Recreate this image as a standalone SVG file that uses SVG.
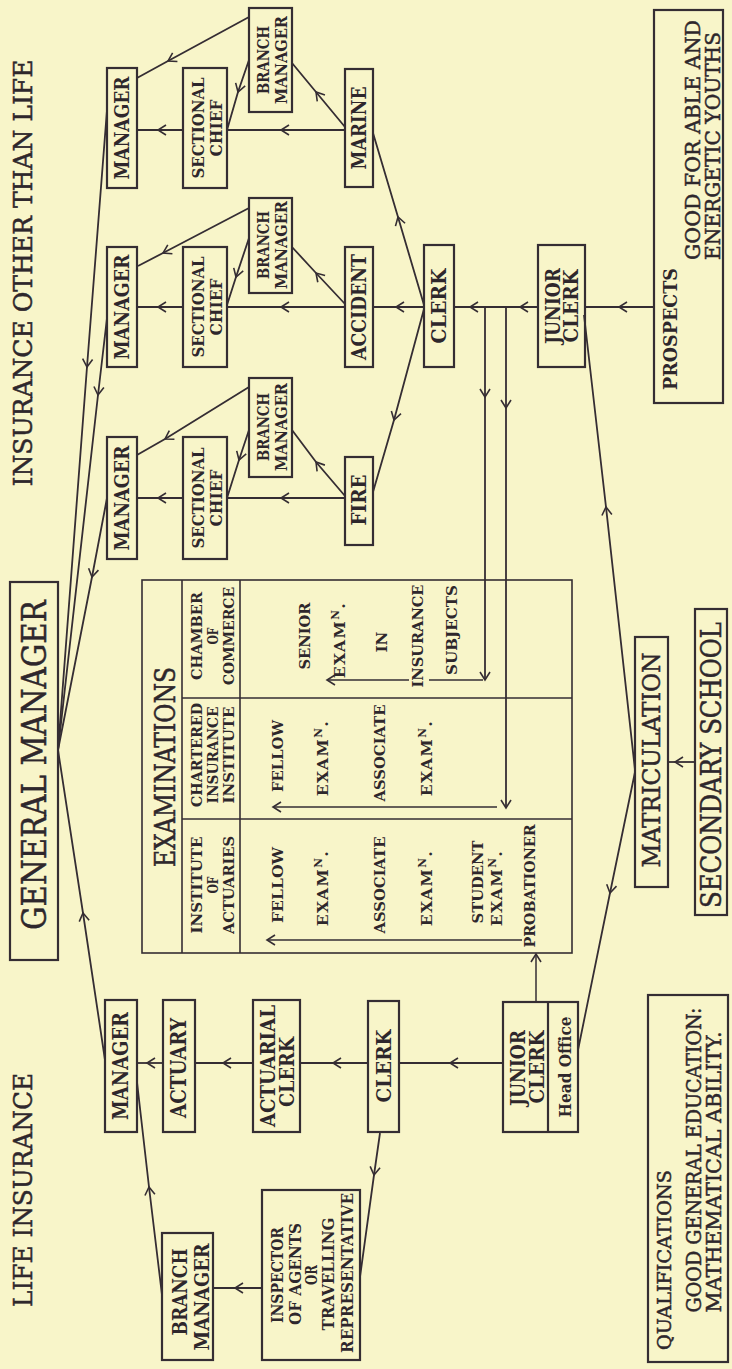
<svg xmlns="http://www.w3.org/2000/svg" width="732" height="1369" viewBox="0 0 732 1369">
<style>
.bg{fill:#f8f5c9}
.b{fill:none;stroke:#352d33;stroke-width:2.2}
.tl{fill:none;stroke:#352d33;stroke-width:1.6}
.t{font-family:"DejaVu Serif","Liberation Serif",serif;fill:#2e272c;text-anchor:middle;font-weight:bold}
.h{font-family:"DejaVu Serif","Liberation Serif",serif;fill:#2e272c;text-anchor:middle;stroke:#2e272c;stroke-width:0.5}
.c{fill:none;stroke:#352d33;stroke-width:1.8;marker-mid:url(#ch)}
.e{fill:none;stroke:#352d33;stroke-width:1.5;marker-end:url(#ch)}
.p{fill:none;stroke:#352d33;stroke-width:1.5}
</style>
<defs>
<marker id="ch" markerUnits="userSpaceOnUse" markerWidth="20" markerHeight="20" viewBox="-10 -10 20 20" refX="0" refY="0" orient="auto">
<path d="M-8,-5 L0,0 L-8,5" fill="none" stroke="#352d33" stroke-width="1.6"/>
</marker>
</defs>
<rect class="bg" x="0" y="0" width="732" height="1369"/>

<g id="titles">
<text class="h" font-size="26" textLength="427" lengthAdjust="spacingAndGlyphs" transform="translate(31.6,273) rotate(-90)">INSURANCE OTHER THAN LIFE</text>
<text class="h" font-size="26" textLength="234" lengthAdjust="spacingAndGlyphs" transform="translate(31.6,1190) rotate(-90)">LIFE INSURANCE</text>
</g>

<g id="connectors">
<polyline class="c" points="654,307 619,307 585,307"/>
<polyline class="c" points="538,307 520,307 470,307 454,307"/>
<polyline class="c" points="424,307 396,307 373,307"/>
<polyline class="c" points="424,305 398,217 373,133"/>
<polyline class="c" points="424,309 394,420 373,492"/>
<polyline class="c" points="345,130 281,130 227,130"/>
<polyline class="c" points="345,127 316,92 292,63"/>
<polyline class="c" points="249,60 238,92 227,130"/>
<polyline class="c" points="249,17 168,61 137,78"/>
<polyline class="c" points="183,130 158,130 137,130"/>
<polyline class="c" points="345,307 281,307 227,307"/>
<polyline class="c" points="345,304 316,273 292,247"/>
<polyline class="c" points="249,238 236,277 227,305"/>
<polyline class="c" points="249,208 163,253 138,266"/>
<polyline class="c" points="183,307 158,307 137,307"/>
<polyline class="c" points="345,498 281,498 227,498"/>
<polyline class="c" points="345,496 316,462 292,430"/>
<polyline class="c" points="249,430 239,460 227,498"/>
<polyline class="c" points="249,387 165,439 137,455"/>
<polyline class="c" points="183,498 158,498 137,498"/>
<polyline class="c" points="107,110 87,367 58,750"/>
<polyline class="c" points="107,318 98,395 58,750"/>
<polyline class="c" points="107,498 92,577 58,750"/>
<polyline class="c" points="105,1060 83,913 58,750"/>
<polyline class="c" points="162,1295 149,1187 137,1082"/>
<polyline class="c" points="163,1063 147,1063 137,1063"/>
<polyline class="c" points="253,1063 223,1063 195,1063"/>
<polyline class="c" points="368,1063 333,1063 300,1063"/>
<polyline class="c" points="503,1063 450,1063 399,1063"/>
<polyline class="c" points="380,1133 374,1175 360,1277"/>
<polyline class="c" points="262,1288 235,1288 213,1288"/>
<polyline class="e" points="536,1002 536,954"/>
<polyline class="c" points="635,770 606,507 584,315"/>
<polyline class="c" points="635,772 610,893 578,1050"/>
<polyline class="c" points="695,762 675,762 668,762"/>
<polyline class="c" points="485,307 485,397 485,680" style="marker-end:url(#ch)"/>
<polyline class="p" points="483,680 429,680"/>
<polyline class="e" points="409,680 327,680"/>
<polyline class="c" points="506,307 506,408 506,808" style="marker-end:url(#ch)"/>
<polyline class="e" points="497,807 273,807"/>
<polyline class="e" points="522,940 267,940"/>
</g>

<g id="gm">
<rect class="b" x="10" y="582" width="48" height="378"/>
<text class="h" font-size="34" textLength="330" lengthAdjust="spacingAndGlyphs" transform="translate(46,765) rotate(-90)">GENERAL MANAGER</text>
</g>

<g id="mgr-marine">
<rect class="b" x="107" y="68" width="30" height="120"/>
<text class="t" font-size="21" textLength="103" lengthAdjust="spacingAndGlyphs" transform="translate(129,128) rotate(-90)">MANAGER</text>
</g>
<g id="sc-marine">
<rect class="b" x="183" y="68" width="44" height="120"/>
<text class="t" font-size="17.5" textLength="101" lengthAdjust="spacingAndGlyphs" transform="translate(203.8,128) rotate(-90)">SECTIONAL</text>
<text class="t" font-size="17.5" textLength="57" lengthAdjust="spacingAndGlyphs" transform="translate(221.8,128) rotate(-90)">CHIEF</text>
</g>
<g id="bm-marine">
<rect class="b" x="249" y="8" width="43" height="104"/>
<text class="t" font-size="17" textLength="68" lengthAdjust="spacingAndGlyphs" transform="translate(268.6,60) rotate(-90)">BRANCH</text>
<text class="t" font-size="17" textLength="88" lengthAdjust="spacingAndGlyphs" transform="translate(286.6,60) rotate(-90)">MANAGER</text>
</g>
<g id="marine">
<rect class="b" x="345" y="69" width="28" height="118"/>
<text class="t" font-size="21" textLength="83" lengthAdjust="spacingAndGlyphs" transform="translate(366,128) rotate(-90)">MARINE</text>
</g>

<g id="mgr-accident">
<rect class="b" x="107" y="247" width="30" height="120"/>
<text class="t" font-size="21" textLength="105" lengthAdjust="spacingAndGlyphs" transform="translate(129,307) rotate(-90)">MANAGER</text>
</g>
<g id="sc-accident">
<rect class="b" x="183" y="247" width="44" height="120"/>
<text class="t" font-size="17.5" textLength="101" lengthAdjust="spacingAndGlyphs" transform="translate(203.8,307) rotate(-90)">SECTIONAL</text>
<text class="t" font-size="17.5" textLength="57" lengthAdjust="spacingAndGlyphs" transform="translate(221.8,307) rotate(-90)">CHIEF</text>
</g>
<g id="bm-accident">
<rect class="b" x="249" y="198" width="43" height="95"/>
<text class="t" font-size="17" textLength="68" lengthAdjust="spacingAndGlyphs" transform="translate(268.6,245) rotate(-90)">BRANCH</text>
<text class="t" font-size="17" textLength="88" lengthAdjust="spacingAndGlyphs" transform="translate(286.6,245) rotate(-90)">MANAGER</text>
</g>
<g id="accident">
<rect class="b" x="345" y="247" width="28" height="120"/>
<text class="t" font-size="21" textLength="106" lengthAdjust="spacingAndGlyphs" transform="translate(366,307) rotate(-90)">ACCIDENT</text>
</g>

<g id="mgr-fire">
<rect class="b" x="107" y="437" width="30" height="122"/>
<text class="t" font-size="21" textLength="105" lengthAdjust="spacingAndGlyphs" transform="translate(129,498) rotate(-90)">MANAGER</text>
</g>
<g id="sc-fire">
<rect class="b" x="183" y="437" width="44" height="122"/>
<text class="t" font-size="17.5" textLength="101" lengthAdjust="spacingAndGlyphs" transform="translate(203.8,498) rotate(-90)">SECTIONAL</text>
<text class="t" font-size="17.5" textLength="57" lengthAdjust="spacingAndGlyphs" transform="translate(221.8,498) rotate(-90)">CHIEF</text>
</g>
<g id="bm-fire">
<rect class="b" x="249" y="378" width="43" height="99"/>
<text class="t" font-size="17" textLength="68" lengthAdjust="spacingAndGlyphs" transform="translate(268.6,427) rotate(-90)">BRANCH</text>
<text class="t" font-size="17" textLength="88" lengthAdjust="spacingAndGlyphs" transform="translate(286.6,427) rotate(-90)">MANAGER</text>
</g>
<g id="fire">
<rect class="b" x="345" y="457" width="28" height="88"/>
<text class="t" font-size="21" textLength="51" lengthAdjust="spacingAndGlyphs" transform="translate(366,500) rotate(-90)">FIRE</text>
</g>

<g id="clerk-other">
<rect class="b" x="424" y="245" width="30" height="122"/>
<text class="t" font-size="21" textLength="75" lengthAdjust="spacingAndGlyphs" transform="translate(446,306) rotate(-90)">CLERK</text>
</g>
<g id="junior-other">
<rect class="b" x="538" y="245" width="47" height="122"/>
<text class="t" font-size="20" textLength="76" lengthAdjust="spacingAndGlyphs" transform="translate(559.6,306) rotate(-90)">JUNIOR</text>
<text class="t" font-size="20" textLength="73" lengthAdjust="spacingAndGlyphs" transform="translate(578,306) rotate(-90)">CLERK</text>
</g>
<g id="prospects">
<rect class="b" x="654" y="10" width="69" height="393"/>
<text class="t" font-size="19" textLength="122" lengthAdjust="spacingAndGlyphs" transform="translate(677.3,329) rotate(-90)">PROSPECTS</text>
<text class="h" font-size="21" textLength="240" lengthAdjust="spacingAndGlyphs" transform="translate(700.4,140) rotate(-90)">GOOD FOR ABLE AND</text>
<text class="h" font-size="21" textLength="228" lengthAdjust="spacingAndGlyphs" transform="translate(719.5,146) rotate(-90)">ENERGETIC YOUTHS</text>
</g>

<g id="examinations">
<rect class="tl" x="142" y="580" width="430" height="373"/>
<line class="tl" x1="182" y1="580" x2="182" y2="953"/>
<line class="tl" x1="240" y1="580" x2="240" y2="953"/>
<line class="tl" x1="182" y1="698" x2="572" y2="698"/>
<line class="tl" x1="182" y1="819" x2="572" y2="819"/>
<text class="h" font-size="27" textLength="200" lengthAdjust="spacingAndGlyphs" transform="translate(175,767) rotate(-90)">EXAMINATIONS</text>
<text class="t" font-size="15" textLength="88" lengthAdjust="spacingAndGlyphs" transform="translate(201.5,636) rotate(-90)">CHAMBER</text>
<text class="t" font-size="15" textLength="17" lengthAdjust="spacingAndGlyphs" transform="translate(217.5,636) rotate(-90)">OF</text>
<text class="t" font-size="15" textLength="98" lengthAdjust="spacingAndGlyphs" transform="translate(233.5,636) rotate(-90)">COMMERCE</text>
<text class="t" font-size="15" textLength="104" lengthAdjust="spacingAndGlyphs" transform="translate(201.5,755) rotate(-90)">CHARTERED</text>
<text class="t" font-size="15" textLength="97" lengthAdjust="spacingAndGlyphs" transform="translate(217.5,755) rotate(-90)">INSURANCE</text>
<text class="t" font-size="15" textLength="97" lengthAdjust="spacingAndGlyphs" transform="translate(233.5,755) rotate(-90)">INSTITUTE</text>
<text class="t" font-size="15" textLength="97" lengthAdjust="spacingAndGlyphs" transform="translate(201.5,885) rotate(-90)">INSTITUTE</text>
<text class="t" font-size="15" textLength="17" lengthAdjust="spacingAndGlyphs" transform="translate(217.5,885) rotate(-90)">OF</text>
<text class="t" font-size="15" textLength="98" lengthAdjust="spacingAndGlyphs" transform="translate(233.5,885) rotate(-90)">ACTUARIES</text>
<text class="t" font-size="15.5" textLength="67" lengthAdjust="spacingAndGlyphs" transform="translate(310.1,636) rotate(-90)">SENIOR</text>
<text class="t" font-size="15.5" letter-spacing="1.5" transform="translate(345,640) rotate(-90)">EXAM<tspan font-size="10.5" dy="-6">N</tspan><tspan dy="6">.</tspan></text>
<text class="t" font-size="15.5" textLength="21" lengthAdjust="spacingAndGlyphs" transform="translate(387.1,642) rotate(-90)">IN</text>
<text class="t" font-size="15.5" textLength="103" lengthAdjust="spacingAndGlyphs" transform="translate(423.1,636) rotate(-90)">INSURANCE</text>
<text class="t" font-size="15.5" textLength="90" lengthAdjust="spacingAndGlyphs" transform="translate(457.1,630) rotate(-90)">SUBJECTS</text>
<text class="t" font-size="15.5" textLength="72" lengthAdjust="spacingAndGlyphs" transform="translate(283.1,756) rotate(-90)">FELLOW</text>
<text class="t" font-size="15.5" letter-spacing="1.5" transform="translate(328.1,758) rotate(-90)">EXAM<tspan font-size="10.5" dy="-6">N</tspan><tspan dy="6">.</tspan></text>
<text class="t" font-size="15.5" textLength="97" lengthAdjust="spacingAndGlyphs" transform="translate(385.1,753) rotate(-90)">ASSOCIATE</text>
<text class="t" font-size="15.5" letter-spacing="1.5" transform="translate(432.1,758) rotate(-90)">EXAM<tspan font-size="10.5" dy="-6">N</tspan><tspan dy="6">.</tspan></text>
<text class="t" font-size="15.5" textLength="76" lengthAdjust="spacingAndGlyphs" transform="translate(283.1,885) rotate(-90)">FELLOW</text>
<text class="t" font-size="15.5" letter-spacing="1.5" transform="translate(328.1,888) rotate(-90)">EXAM<tspan font-size="10.5" dy="-6">N</tspan><tspan dy="6">.</tspan></text>
<text class="t" font-size="15.5" textLength="97" lengthAdjust="spacingAndGlyphs" transform="translate(385.1,885) rotate(-90)">ASSOCIATE</text>
<text class="t" font-size="15.5" letter-spacing="1.5" transform="translate(432.1,888) rotate(-90)">EXAM<tspan font-size="10.5" dy="-6">N</tspan><tspan dy="6">.</tspan></text>
<text class="t" font-size="15.5" textLength="83" lengthAdjust="spacingAndGlyphs" transform="translate(483.1,882) rotate(-90)">STUDENT</text>
<text class="t" font-size="15.5" letter-spacing="1.5" transform="translate(502.1,888) rotate(-90)">EXAM<tspan font-size="10.5" dy="-6">N</tspan><tspan dy="6">.</tspan></text>
<text class="t" font-size="15.5" textLength="123" lengthAdjust="spacingAndGlyphs" transform="translate(535.1,886) rotate(-90)">PROBATIONER</text>
</g>

<g id="matriculation">
<rect class="b" x="635" y="637" width="33" height="250"/>
<text class="h" font-size="25" textLength="215" lengthAdjust="spacingAndGlyphs" transform="translate(660,760) rotate(-90)">MATRICULATION</text>
</g>
<g id="secondary-school">
<rect class="b" x="695" y="609" width="32" height="306"/>
<text class="h" font-size="27" textLength="286" lengthAdjust="spacingAndGlyphs" transform="translate(720.5,765) rotate(-90)">SECONDARY SCHOOL</text>
</g>

<g id="mgr-life">
<rect class="b" x="105" y="1000" width="32" height="132"/>
<text class="t" font-size="21.5" textLength="108" lengthAdjust="spacingAndGlyphs" transform="translate(127.8,1066) rotate(-90)">MANAGER</text>
</g>
<g id="actuary">
<rect class="b" x="163" y="1000" width="32" height="132"/>
<text class="t" font-size="21.5" textLength="100" lengthAdjust="spacingAndGlyphs" transform="translate(186,1068) rotate(-90)">ACTUARY</text>
</g>
<g id="actuarial-clerk">
<rect class="b" x="253" y="1000" width="47" height="132"/>
<text class="t" font-size="20" textLength="122" lengthAdjust="spacingAndGlyphs" transform="translate(274.6,1066) rotate(-90)">ACTUARIAL</text>
<text class="t" font-size="20" textLength="70" lengthAdjust="spacingAndGlyphs" transform="translate(293.6,1072) rotate(-90)">CLERK</text>
</g>
<g id="clerk-life">
<rect class="b" x="368" y="1001" width="31" height="131"/>
<text class="t" font-size="21" textLength="73" lengthAdjust="spacingAndGlyphs" transform="translate(391,1066) rotate(-90)">CLERK</text>
</g>
<g id="junior-life">
<rect class="b" x="503" y="1002" width="75" height="130"/>
<line class="b" x1="548" y1="1002" x2="548" y2="1132"/>
<text class="t" font-size="20" textLength="76" lengthAdjust="spacingAndGlyphs" transform="translate(524.6,1068) rotate(-90)">JUNIOR</text>
<text class="t" font-size="20" textLength="73" lengthAdjust="spacingAndGlyphs" transform="translate(543.6,1067) rotate(-90)">CLERK</text>
<text class="t" font-size="17" textLength="101" lengthAdjust="spacingAndGlyphs" transform="translate(570.5,1067) rotate(-90)">Head Office</text>
</g>
<g id="bm-life">
<rect class="b" x="162" y="1233" width="51" height="127"/>
<text class="t" font-size="21" textLength="87" lengthAdjust="spacingAndGlyphs" transform="translate(187,1292) rotate(-90)">BRANCH</text>
<text class="t" font-size="21" textLength="107" lengthAdjust="spacingAndGlyphs" transform="translate(209,1297) rotate(-90)">MANAGER</text>
</g>
<g id="inspector">
<rect class="b" x="262" y="1190" width="98" height="170"/>
<text class="t" font-size="16" textLength="96" lengthAdjust="spacingAndGlyphs" transform="translate(283.3,1275) rotate(-90)">INSPECTOR</text>
<text class="t" font-size="16" textLength="102" lengthAdjust="spacingAndGlyphs" transform="translate(301.3,1274) rotate(-90)">OF AGENTS</text>
<text class="t" font-size="16" textLength="20" lengthAdjust="spacingAndGlyphs" transform="translate(317.3,1275) rotate(-90)">OR</text>
<text class="t" font-size="16" textLength="113" lengthAdjust="spacingAndGlyphs" transform="translate(334.3,1274) rotate(-90)">TRAVELLING</text>
<text class="t" font-size="16" textLength="160" lengthAdjust="spacingAndGlyphs" transform="translate(352.8,1273) rotate(-90)">REPRESENTATIVE</text>
</g>
<g id="qualifications">
<rect class="b" x="648" y="995" width="80" height="367"/>
<text class="h" font-size="19" textLength="180" lengthAdjust="spacingAndGlyphs" transform="translate(671.3,1260) rotate(-90)">QUALIFICATIONS</text>
<text class="h" font-size="21" textLength="305" lengthAdjust="spacingAndGlyphs" transform="translate(701,1160) rotate(-90)">GOOD GENERAL EDUCATION:</text>
<text class="h" font-size="21" textLength="281" lengthAdjust="spacingAndGlyphs" transform="translate(720.5,1172) rotate(-90)">MATHEMATICAL ABILITY.</text>
</g>
</svg>
